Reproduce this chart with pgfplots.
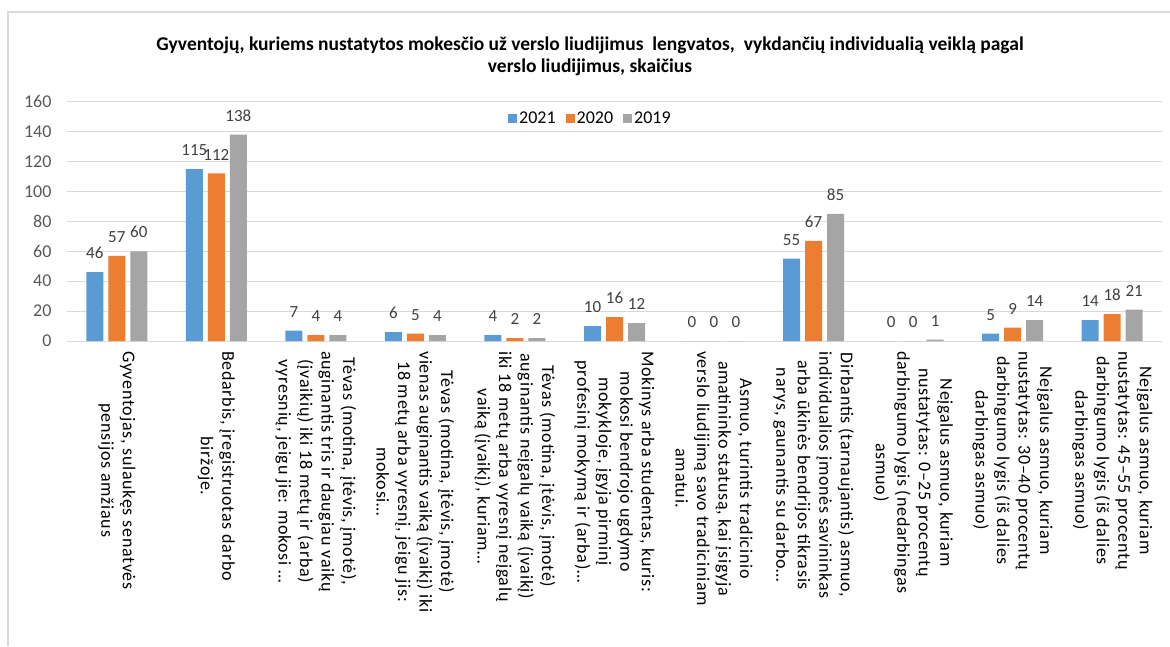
\documentclass[border=0pt]{standalone}
\usepackage{pgfplots}
\pgfplotsset{compat=1.18}
\usepackage{fontspec}
\setmainfont{Carlito}
\definecolor{c21}{HTML}{5B9BD5}
\definecolor{c20}{HTML}{ED7D31}
\definecolor{c19}{HTML}{A5A5A5}
\definecolor{gridc}{HTML}{D9D9D9}
\definecolor{tickc}{HTML}{595959}
\definecolor{labc}{HTML}{404040}
\begin{document}
\begin{tikzpicture}
\path[use as bounding box] (0pt,0pt) rectangle (1170pt,646pt);
\draw[gridc, line width=1.3pt] (8pt,0pt) -- (8pt,634pt) -- (1170pt,634pt);
\node[align=center, font=\fontsize{19.5}{22}\selectfont\bfseries] at (590pt,590pt)
  {Gyventojų, kuriems nustatytos mokesčio už verslo liudijimus \ lengvatos, \ vykdančių individualią veiklą pagal\\verslo liudijimus, skaičius};
\begin{axis}[
  at={(67pt,305pt)}, anchor=south west,
  scale only axis, width=1095pt, height=239.3pt,
  ymin=0, ymax=160, ytick={0,20,...,160},
  xmin=-0.5, xmax=10.5, xtick={0,...,10},
  xticklabels={
    {Gyventojas, sulaukęs senatvės\\pensijos amžiaus},
    {Bedarbis, įregistruotas darbo\\biržoje.},
    {Tėvas (motina, įtėvis, įmotė),\\auginantis tris ir daugiau vaikų\\(įvaikių) iki 18 metų ir (arba)\\vyresnių, jeigu jie: mokosi …},
    {Tėvas (motina, įtėvis, įmotė)\\vienas auginantis vaiką (įvaikį) iki\\18 metų arba vyresnį, jeigu jis:\\mokosi…},
    {Tėvas (motina, įtėvis, įmotė)\\auginantis neįgalų vaiką (įvaikį)\\iki 18 metų arba vyresnį neįgalų\\vaiką (įvaikį), kuriam…},
    {Mokinys arba studentas, kuris:\\mokosi bendrojo ugdymo\\mokykloje, įgyja pirminį\\profesinį mokymą ir (arba)…},
    {Asmuo, turintis tradicinio\\amatininko statusą, kai įsigyja\\verslo liudijimą savo tradiciniam\\amatui.},
    {Dirbantis (tarnaujantis) asmuo,\\individualios įmonės savininkas\\arba ūkinės bendrijos tikrasis\\narys, gaunantis su darbo…},
    {Neįgalus asmuo, kuriam\\nustatytas: 0–25 procentų\\darbingumo lygis (nedarbingas\\asmuo)},
    {Neįgalus asmuo, kuriam\\nustatytas: 30–40 procentų\\darbingumo lygis (iš dalies\\darbingas asmuo)},
    {Neįgalus asmuo, kuriam\\nustatytas: 45–55 procentų\\darbingumo lygis (iš dalies\\darbingas asmuo)}
  },
  xticklabel style={rotate=-90, anchor=west, align=center, font=\fontsize{18}{21.5}\selectfont\addfontfeatures{LetterSpace=4}, text=black, inner sep=0pt, xshift=10pt},
  yticklabel style={font=\fontsize{18}{20}\selectfont, text=tickc, xshift=-12pt},
  /pgf/number format/assume math mode=true,
  ybar=5pt, bar width=17pt,
  axis line style={draw=none},
  major tick length=0pt,
  ymajorgrids, grid style={gridc, line width=1pt},
  nodes near coords,
  every node near coord/.append style={font=\fontsize{17}{18}\selectfont, text=labc, inner sep=0pt, yshift=13pt},
  legend style={at={(0.478,0.93)}, anchor=center, legend columns=-1, draw=none, fill=none,
    font=\fontsize{18}{20}\selectfont,
    /tikz/every even column/.append style={column sep=8pt}},
  legend image code/.code={\fill[#1] (0pt,-4.5pt) rectangle (9pt,4.5pt);},
]
\addplot[fill=c21, draw=none] coordinates {(0,46) (1,115) (2,7) (3,6) (4,4) (5,10) (6,0) (7,55) (8,0) (9,5) (10,14)};
\addplot[fill=c20, draw=none] coordinates {(0,57) (1,112) (2,4) (3,5) (4,2) (5,16) (6,0) (7,67) (8,0) (9,9) (10,18)};
\addplot[fill=c19, draw=none] coordinates {(0,60) (1,138) (2,4) (3,4) (4,2) (5,12) (6,0) (7,85) (8,1) (9,14) (10,21)};
\legend{2021,2020,2019}
\end{axis}
\end{tikzpicture}
\end{document}
